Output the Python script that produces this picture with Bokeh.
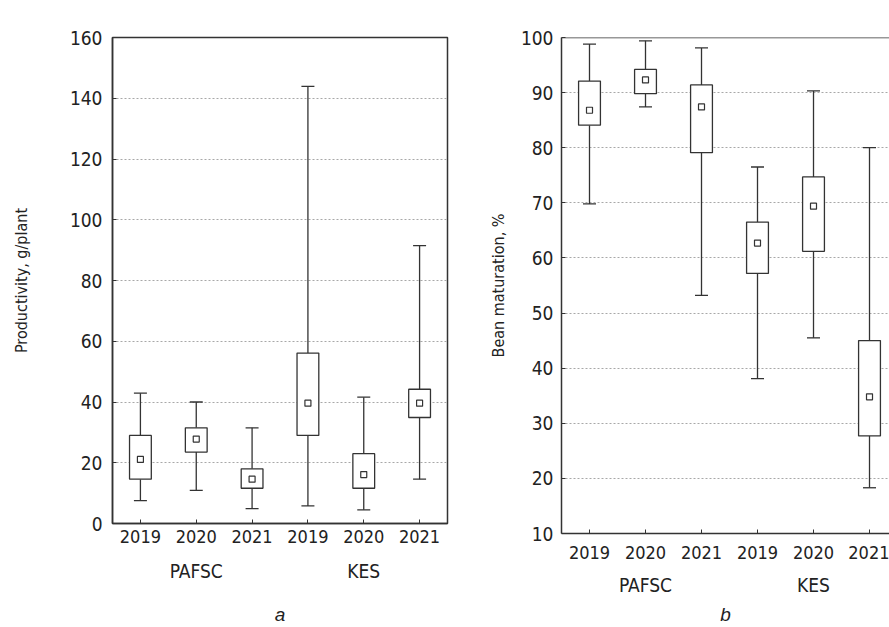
from bokeh.plotting import figure
from bokeh.models import LinearAxis, FixedTicker, Range1d, ColumnDataSource, Span
from bokeh.embed import file_html
from bokeh.resources import INLINE

# ---------------- data ----------------
years = ["2019", "2020", "2021", "2019", "2020", "2021"]
groups = ["PAFSC", "KES"]

# panel a: Productivity, g/plant
prod_hi = [42.9, 40.0, 31.5, 143.9, 41.6, 91.5]
prod_q3 = [29.0, 31.5, 18.0, 56.1, 23.0, 44.2]
prod_mid = [21.1, 27.8, 14.6, 39.6, 16.1, 39.6]
prod_q1 = [14.6, 23.5, 11.6, 29.0, 11.6, 34.9]
prod_lo = [7.5, 10.9, 4.9, 5.8, 4.5, 14.6]
prod_ticks = [0, 20, 40, 60, 80, 100, 120, 140, 160]

# panel b: Bean maturation, %
mat_hi = [98.8, 99.4, 98.1, 76.5, 90.3, 80.0]
mat_q3 = [92.1, 94.2, 91.4, 66.5, 74.7, 45.0]
mat_mid = [86.8, 92.3, 87.4, 62.7, 69.4, 34.8]
mat_q1 = [84.1, 89.8, 79.1, 57.2, 61.2, 27.7]
mat_lo = [69.8, 87.4, 53.2, 38.1, 45.5, 18.3]
mat_ticks = [10, 20, 30, 40, 50, 60, 70, 80, 90, 100]

INK = "#333333"
FONT = "DejaVu Sans Condensed"

# two independent roots placed side by side (no frame alignment)
TEMPLATE = """
{% block postamble %}
<style>
  body { display: flex; flex-direction: row; align-items: flex-start; }
</style>
{% endblock %}
"""


def panel(hi, q3, mid, q1, lo, yticks, ylabel, letter, width, height,
          x_end, mb_left, mb_right, mb_top, mb_bottom, full_outline,
          ytick_standoff, year_standoff, group_standoff, letter_standoff,
          ylabel_standoff):
    pos = list(range(1, len(years) + 1))
    src = ColumnDataSource(dict(x=pos, hi=hi, q3=q3, mid=mid, q1=q1, lo=lo))
    p = figure(width=width, height=height, output_backend="svg",
               toolbar_location=None, x_axis_location=None,
               y_axis_location=None,
               x_range=Range1d(0.5, x_end),
               y_range=Range1d(yticks[0], yticks[-1]),
               min_border_left=mb_left, min_border_right=mb_right,
               min_border_top=mb_top, min_border_bottom=mb_bottom)
    p.background_fill_color = "white"
    p.border_fill_color = "white"
    if full_outline:
        p.outline_line_color = INK
        p.outline_line_width = 1.5
    else:
        p.outline_line_color = None
        p.add_layout(Span(location=yticks[-1], dimension="width",
                          line_color=INK, line_width=1.5))

    yt = FixedTicker(ticks=yticks)
    xt = FixedTicker(ticks=pos)

    def style_axis(ax):
        ax.axis_line_color = INK
        ax.axis_line_width = 1.5
        ax.major_tick_in = 4
        ax.major_tick_out = 0
        ax.major_tick_line_color = INK
        ax.minor_tick_line_color = None
        ax.major_label_text_font = FONT
        ax.major_label_text_color = "#222222"
        ax.axis_label_text_font = FONT
        ax.axis_label_text_color = "#222222"

    # left axis
    ly = LinearAxis(ticker=yt, axis_label=ylabel)
    style_axis(ly)
    ly.major_label_text_font_size = "19px"
    ly.major_label_standoff = ytick_standoff
    ly.axis_label_text_font_size = "16px"
    ly.axis_label_text_font_style = "normal"
    ly.axis_label_standoff = ylabel_standoff
    p.add_layout(ly, "left")

    # bottom axis with years
    bx = LinearAxis(ticker=xt,
                    major_label_overrides={x: y for x, y in zip(pos, years)})
    style_axis(bx)
    bx.major_label_text_font_size = "18px"
    bx.major_label_standoff = year_standoff
    p.add_layout(bx, "below")

    # group axis with site names and panel letter
    gx = LinearAxis(ticker=FixedTicker(ticks=[2, 5]),
                    major_label_overrides={2: groups[0], 5: groups[1]},
                    axis_label=letter)
    style_axis(gx)
    gx.axis_line_color = None
    gx.major_tick_line_color = None
    gx.major_tick_in = 0
    gx.major_label_text_font_size = "19px"
    gx.major_label_standoff = group_standoff
    gx.axis_label_text_font = "Liberation Sans"
    gx.axis_label_text_font_style = "italic"
    gx.axis_label_text_font_size = "19px"
    gx.axis_label_standoff = letter_standoff
    p.add_layout(gx, "below")

    p.xgrid.visible = False
    p.ygrid.ticker = yt
    p.ygrid.grid_line_color = "#a8a8a8"
    p.ygrid.grid_line_dash = "2 2"
    p.ygrid.grid_line_width = 1

    # whiskers
    p.segment(x0="x", y0="q3", x1="x", y1="hi", source=src,
              line_color=INK, line_width=1.3)
    p.segment(x0="x", y0="q1", x1="x", y1="lo", source=src,
              line_color=INK, line_width=1.3)
    p.scatter(x="x", y="hi", source=src, marker="dash", size=13,
              line_color=INK, line_width=1.3)
    p.scatter(x="x", y="lo", source=src, marker="dash", size=13,
              line_color=INK, line_width=1.3)
    # boxes
    p.vbar(x="x", top="q3", bottom="q1", width=0.39, source=src,
           fill_color="white", line_color=INK, line_width=1.3)
    # median marker
    p.scatter(x="x", y="mid", source=src, marker="square", size=6,
              fill_color="white", line_color=INK, line_width=1.2)
    return p


pa = panel(prod_hi, prod_q3, prod_mid, prod_q1, prod_lo, prod_ticks,
           "Productivity, g/plant", "a",
           width=453, height=627, x_end=6.5,
           mb_left=112, mb_right=6, mb_top=37, mb_bottom=104,
           full_outline=True, ytick_standoff=10, year_standoff=6,
           group_standoff=14, letter_standoff=19, ylabel_standoff=36)

pb = panel(mat_hi, mat_q3, mat_mid, mat_q1, mat_lo, mat_ticks,
           "Bean maturation, %", "b",
           width=436, height=627, x_end=6.357,
           mb_left=108, mb_right=0, mb_top=37, mb_bottom=94,
           full_outline=False, ytick_standoff=8, year_standoff=12,
           group_standoff=12, letter_standoff=5, ylabel_standoff=10)

open("out.html", "w").write(file_html([pa, pb], INLINE, template=TEMPLATE))
